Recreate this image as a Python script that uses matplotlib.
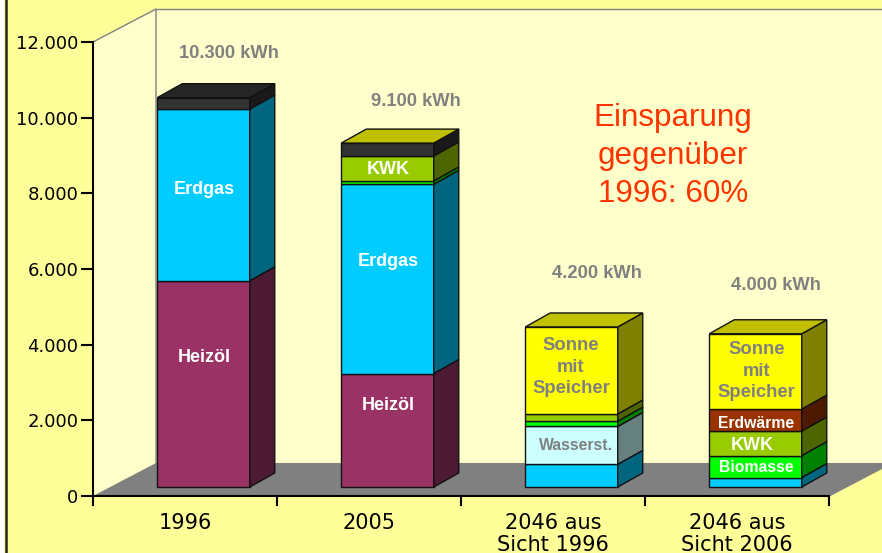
import matplotlib
matplotlib.use("Agg")
import matplotlib.pyplot as plt
from matplotlib.lines import Line2D
from matplotlib.patches import Polygon, Rectangle

W, H = 882, 553

# ── Data ──────────────────────────────────────────────────────────────────────
categories = ["1996", "2005", "2046 aus\nSicht 1996", "2046 aus\nSicht 2006"]
yticks = [0, 2000, 4000, 6000, 8000, 10000, 12000]
ytick_labels = ["0", "2.000", "4.000", "6.000", "8.000", "10.000", "12.000"]

heizoel = [5450, 3000, 0, 0]
erdgas = [4540, 5000, 600, 250]
wasserstoff = [0, 0, 1000, 0]
biomasse = [0, 90, 140, 580]
kwk = [0, 660, 190, 650]
erdwaerme = [0, 0, 0, 580]
dunkel = [300, 340, 0, 0]
sonne = [None, 0, 2300, 1990]  # None: kein Sonnen-Segment, Deckel bleibt dunkel

series = [heizoel, erdgas, wasserstoff, biomasse, kwk, erdwaerme, dunkel, sonne]
front_colors = ["#993366", "#00CCFF", "#CCFFFF", "#00FF00", "#99CC00", "#993300", "#333333", "#FFFF00"]
side_colors = ["#4D1A33", "#006680", "#668080", "#008000", "#4D6600", "#4D1A00", "#1A1A1A", "#808000"]
top_colors = ["#732650", "#0099BF", "#99BFBF", "#00BF00", "#739900", "#732600", "#262626", "#C0C000"]

# ── Geometry (Pixel -> Daten) ─────────────────────────────────────────────────
AX_L, AX_R, AX_TOP, AX_BOT = 93, 829, 42, 496
PX_X = (AX_R - AX_L) / 4
PX_Y = (AX_BOT - AX_TOP) / 12000

WALL_DX, WALL_DY = 63 / PX_X, 33 / PX_Y
BAR_DX, BAR_DY = 25 / PX_X, 14 / PX_Y
SHIFT_X, SHIFT_Y = 18.5 / PX_X, 9 / PX_Y
BAR_W = 92.5 / PX_X

fig = plt.figure(figsize=(W / 100, H / 100), dpi=100, facecolor="#FFFF99")
ax = fig.add_axes([AX_L / W, 1 - AX_BOT / H, (AX_R - AX_L) / W, (AX_BOT - AX_TOP) / H])
ax.set_xlim(-0.5, 3.5)
ax.set_ylim(0, 12000)
ax.patch.set_visible(False)


def txt(x, y, s, **kw):
    """Text in Pixelkoordinaten des Bildes."""
    kw.setdefault("family", "Liberation Sans")
    kw.setdefault("ha", "center")
    kw.setdefault("va", "center")
    kw.setdefault("multialignment", "center")
    fig.text(x / W, 1 - (y + 2) / H, s, **kw)


# ── Waende und Boden ──────────────────────────────────────────────────────────
x0, x1 = -0.5, 3.5
ax.add_patch(Polygon([(x0, 0), (x0 + WALL_DX, WALL_DY), (x0 + WALL_DX, 12000 + WALL_DY), (x0, 12000)],
                     fc="#FFFFCC", ec="none", clip_on=False, zorder=1))
ax.add_patch(Polygon([(x0 + WALL_DX, WALL_DY), (x1 + WALL_DX, WALL_DY), (x1 + WALL_DX, 12000 + WALL_DY),
                      (x0 + WALL_DX, 12000 + WALL_DY)], fc="#FFFFCC", ec="none", clip_on=False, zorder=1))
ax.add_patch(Polygon([(x0, 0), (x0 + WALL_DX, WALL_DY), (x1 + WALL_DX, WALL_DY), (x1, 0)],
                     fc="#808080", ec="none", clip_on=False, zorder=1))
wall_line = dict(color="#808080", lw=1.0, clip_on=False, zorder=1.5)
ax.plot([x0, x0 + WALL_DX, x0 + WALL_DX], [12000, 12000 + WALL_DY, WALL_DY], **wall_line)
ax.plot([x0 + WALL_DX, x1 + WALL_DX], [12000 + WALL_DY] * 2, **wall_line)
ax.plot([x1, x1 + WALL_DX], [0, WALL_DY], **wall_line)

# ── Gestapelte Saeulen ────────────────────────────────────────────────────────
for i in range(len(categories)):
    left = i + SHIFT_X - BAR_W / 2
    right = left + BAR_W
    bottom = SHIFT_Y
    top_idx = 0
    for s, values in enumerate(series):
        v = values[i]
        if v is None:
            continue
        top_idx = s
        if v == 0:
            continue
        ax.bar(i + SHIFT_X, v, BAR_W, bottom=bottom, color=front_colors[s],
               edgecolor="#111111", linewidth=1.0, zorder=3, clip_on=False)
        ax.add_patch(Polygon([(right, bottom), (right + BAR_DX, bottom + BAR_DY),
                              (right + BAR_DX, bottom + v + BAR_DY), (right, bottom + v)],
                             fc=side_colors[s], ec="#111111", lw=1.0, zorder=3, clip_on=False))
        bottom += v
    ax.add_patch(Polygon([(left, bottom), (left + BAR_DX, bottom + BAR_DY),
                          (right + BAR_DX, bottom + BAR_DY), (right, bottom)],
                         fc=top_colors[top_idx], ec="#111111", lw=1.0, zorder=3, clip_on=False))

# ── Achsen ────────────────────────────────────────────────────────────────────
for side in ["top", "right"]:
    ax.spines[side].set_visible(False)
for side in ["left", "bottom"]:
    ax.spines[side].set_linewidth(1.5)
    ax.spines[side].set_zorder(5)

ax.set_yticks(yticks)
ax.set_yticklabels(ytick_labels, family="DejaVu Sans", fontsize=13, color="black")
ax.tick_params(axis="y", length=8.5, width=1.5, pad=2)
ax.set_xticks([-0.5, 0.5, 1.5, 2.5, 3.5])
ax.set_xticklabels([])
ax.tick_params(axis="x", which="major", length=7, width=1.5)
ax.set_xticks([0, 1, 2, 3], minor=True)
ax.set_xticklabels(categories, minor=True, family="DejaVu Sans", fontsize=15, linespacing=1.12, color="black")
ax.tick_params(axis="x", which="minor", length=0, pad=12)

# ── Beschriftungen ────────────────────────────────────────────────────────────
GREY = "#808080"
for x, y, s in [(228.5, 51, "10.300 kWh"), (416, 100, "9.100 kWh"), (597, 272, "4.200 kWh"), (776, 284, "4.000 kWh")]:
    txt(x, y, s, color=GREY, fontsize=13.2, fontweight="bold")

for x, y, s in [(204, 188, "Erdgas"), (204, 355, "Heizöl"), (388, 260, "Erdgas"), (388, 403, "Heizöl"),
                (388, 167, "KWK"), (752, 444, "KWK")]:
    txt(x, y, s, color="white", fontsize=13, fontweight="bold", zorder=6)
for x, y, s in [(756, 421, "Erdwärme"), (756, 466, "Biomasse")]:
    txt(x, y, s, color="white", fontsize=11.3, fontweight="bold", zorder=6)

txt(571, 365, "Sonne\nmit\nSpeicher", color=GREY, fontsize=13.3, fontweight="bold", linespacing=1.35, zorder=6)
txt(756.5, 369, "Sonne\nmit\nSpeicher", color=GREY, fontsize=13.3, fontweight="bold", linespacing=1.35, zorder=6)
txt(576, 444, "Wasserst.", color=GREY, fontsize=11.3, fontweight="bold", zorder=6)

txt(673, 154, "Einsparung\ngegenüber\n1996: 60%", color="#FF3300", fontsize=22.6, linespacing=1.34)

# linker Bildrand
fig.add_artist(Rectangle((0, 0), 4 / W, 1, transform=fig.transFigure, fc="white", ec="none"))
fig.add_artist(Line2D([5.5 / W, 5.5 / W], [0, 1], transform=fig.transFigure, color="#222222", lw=1.8))

fig.savefig("out.png", dpi=100, facecolor=fig.get_facecolor())
plt.close(fig)
